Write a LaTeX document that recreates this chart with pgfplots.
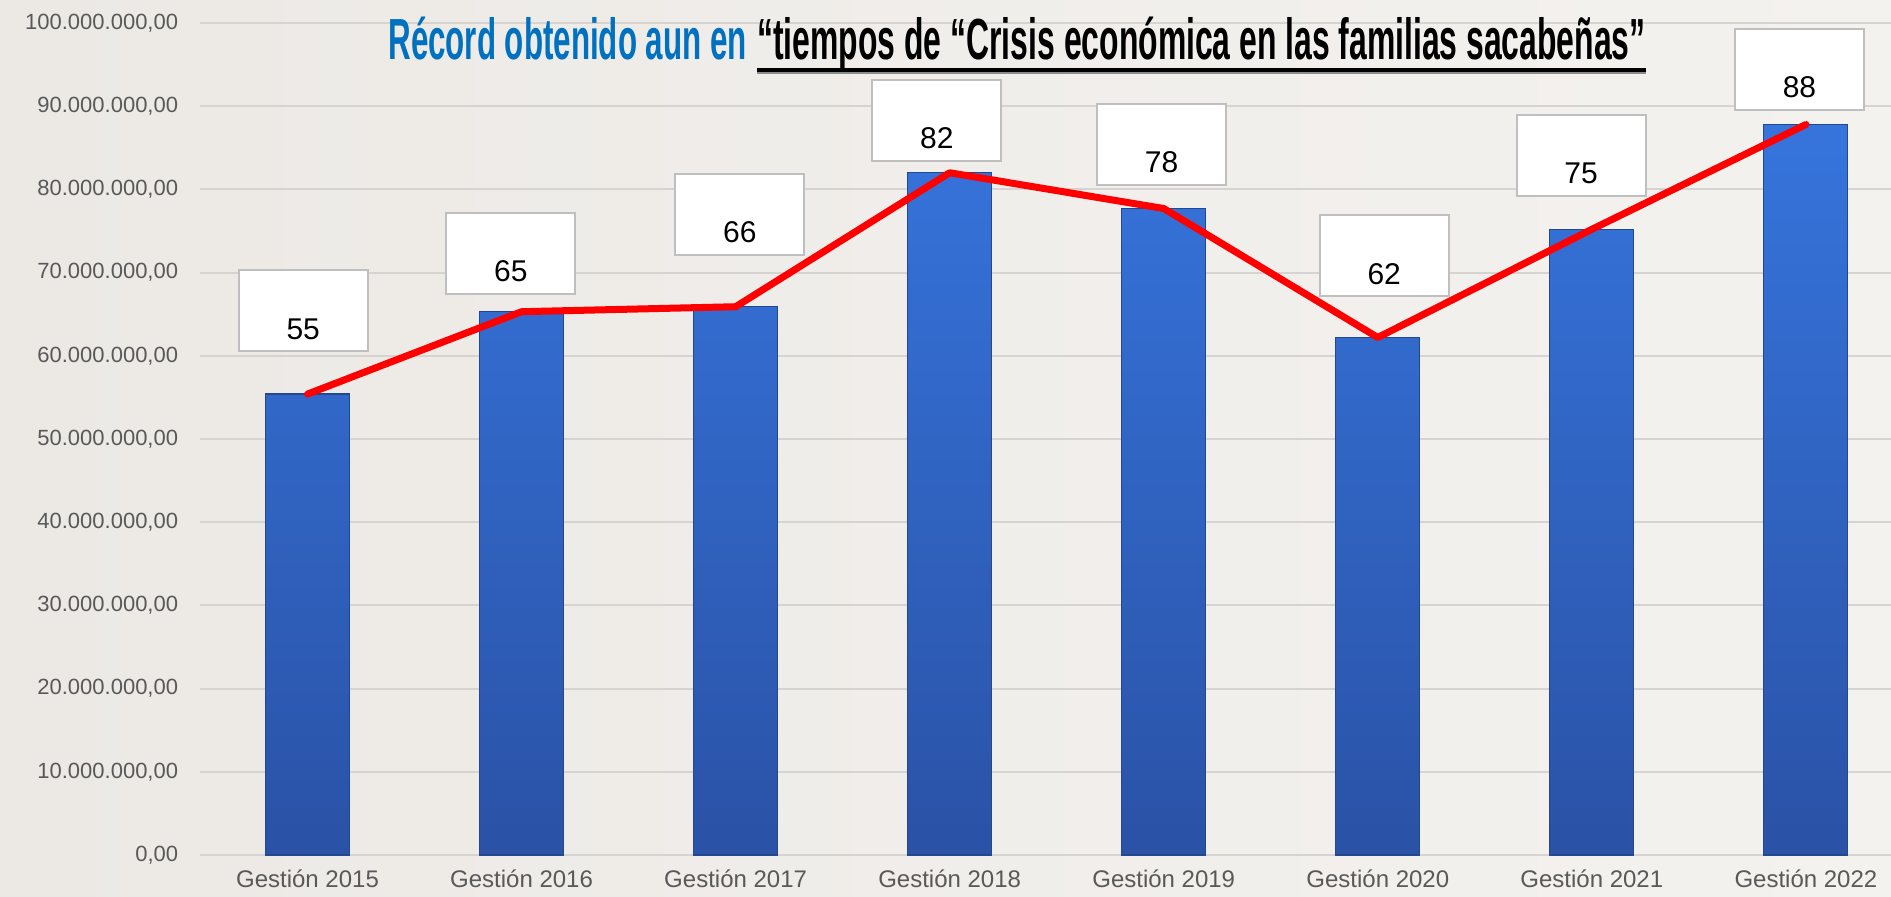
\documentclass[border=0pt]{standalone}
\usepackage{pgfplots}
\pgfplotsset{compat=1.18}
\usepackage{fontspec}
\setmainfont{Liberation Sans}
\usepackage{graphicx}
\definecolor{bgL}{HTML}{ECE9E5}
\definecolor{bgR}{HTML}{F4F2EF}
\definecolor{gridgray}{HTML}{D6D4D1}
\definecolor{ticktext}{HTML}{595959}
\definecolor{barTop}{HTML}{3674DC}
\definecolor{barBot}{HTML}{2A52A6}
\definecolor{barEdge}{HTML}{24488F}
\definecolor{boxgray}{HTML}{BFBFBF}
\definecolor{titleblue}{HTML}{0070C0}
\begin{document}
\begin{tikzpicture}
\shade[left color=bgL, right color=bgR] (0,0) rectangle (945.5pt,448pt);
\begin{axis}[
  at={(100.25pt,20.5pt)}, anchor=south west,
  scale only axis, width=845.5pt, height=416pt,
  xmin=-0.5, xmax=7.4, ymin=0, ymax=100000000,
  ybar, bar width=42pt,
  axis line style={draw=none},
  major tick length=0pt,
  ymajorgrids, grid style={draw=gridgray, line width=1pt},
  xtick={0,1,2,3,4,5,6,7},
  xticklabels={Gestión 2015,Gestión 2016,Gestión 2017,Gestión 2018,Gestión 2019,Gestión 2020,Gestión 2021,Gestión 2022},
  ytick={0,10000000,20000000,30000000,40000000,50000000,60000000,70000000,80000000,90000000,100000000},
  yticklabels={{0,00},{10.000.000,00},{20.000.000,00},{30.000.000,00},{40.000.000,00},{50.000.000,00},{60.000.000,00},{70.000.000,00},{80.000.000,00},{90.000.000,00},{100.000.000,00}},
  /pgf/number format/assume math mode=true,
  yticklabel style={font=\fontsize{11}{13}\selectfont, text=ticktext, inner sep=0pt, xshift=-11pt},
  xticklabel style={font=\fontsize{12}{14}\selectfont, text=ticktext, yshift=-4pt},
  clip=false,
]
\addplot[draw=barEdge, line width=0.6pt, top color=barTop, bottom color=barBot] coordinates {
  (0,55400000) (1,65300000) (2,65900000) (3,82000000) (4,77700000) (5,62200000) (6,75200000) (7,87800000)};
\addplot[sharp plot, draw=red, line width=3.5pt, line cap=round, line join=round, mark=none] coordinates {
  (0,55400000) (1,65300000) (2,65900000) (3,82000000) (4,77700000) (5,62200000) (6,75200000) (7,87800000)};
\tikzset{lbox/.style={draw=boxgray, fill=white, line width=1pt, minimum width=64.5pt, minimum height=40.5pt, inner sep=0pt},
         ltxt/.style={font=\fontsize{15}{18}\selectfont, yshift=-9pt, inner sep=0pt}}
\node[lbox] at (axis cs:-0.02,65400000) {};
\node[ltxt] at (axis cs:-0.02,65400000) {55};
\node[lbox] at (axis cs:0.95,72300000) {};
\node[ltxt] at (axis cs:0.95,72300000) {65};
\node[lbox] at (axis cs:2.02,77000000) {};
\node[ltxt] at (axis cs:2.02,77000000) {66};
\node[lbox] at (axis cs:2.94,88300000) {};
\node[ltxt] at (axis cs:2.94,88300000) {82};
\node[lbox] at (axis cs:3.99,85400000) {};
\node[ltxt] at (axis cs:3.99,85400000) {78};
\node[lbox] at (axis cs:5.03,72000000) {};
\node[ltxt] at (axis cs:5.03,72000000) {62};
\node[lbox] at (axis cs:5.95,84100000) {};
\node[ltxt] at (axis cs:5.95,84100000) {75};
\node[lbox] at (axis cs:6.97,94400000) {};
\node[ltxt] at (axis cs:6.97,94400000) {88};
\end{axis}
\node[anchor=base west, inner sep=0pt, text=titleblue] at (194pt,418pt)
  {\scalebox{0.54}[1]{\fontsize{29}{32}\selectfont\bfseries Récord obtenido aun en}};
\node[anchor=base west, inner sep=0pt] (t2) at (378.5pt,418pt)
  {\scalebox{0.55}[1]{\fontsize{29}{32}\selectfont\bfseries “tiempos de “Crisis económica en las familias sacabeñas”}};
\draw[black!45, line width=1.2pt] ([yshift=-6.6pt]t2.base west) -- ([yshift=-6.6pt]t2.base east);
\draw[black, line width=1.8pt] ([yshift=-5pt]t2.base west) -- ([yshift=-5pt]t2.base east);
\pgfresetboundingbox
\path (0,0) rectangle (945.5pt,448pt);
\end{tikzpicture}
\end{document}
